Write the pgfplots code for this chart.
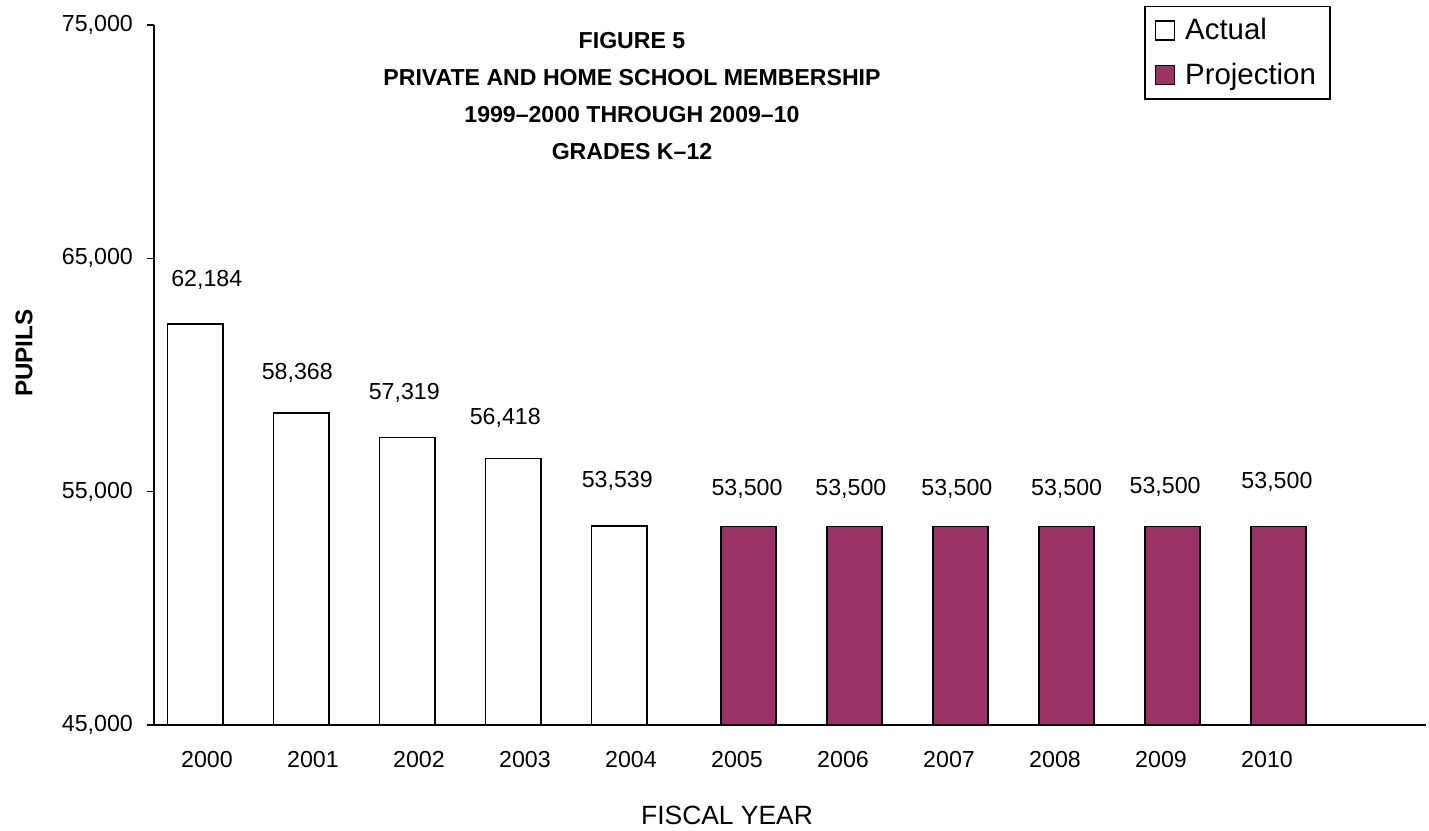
\documentclass[border=0pt]{standalone}
\usepackage{pgfplots}
\pgfplotsset{compat=1.18}
\usepackage{pgfplotstable}
\usepackage{fontspec}
\setmainfont{Liberation Sans}
\definecolor{proj}{RGB}{153,51,102}
\pgfplotstableread{
x y dx dy
0 62184 5.75 18.9
1 58368 -2 17
2 57319 -1.5 19
3 56418 -4 16.8
4 53539 -1 18.9
}\actual
\pgfplotstableread{
x y dx dy
5 53500 -0.8 15.8
6 53500 -1.9 15.8
7 53500 -1.9 15.8
8 53500 0 15.8
9 53500 -3.75 16.8
10 53500 -0.85 18.9
}\proj
\begin{document}
\begin{tikzpicture}
\path[use as bounding box] (-77pt,-52.5pt) rectangle (637.5pt,362.5pt);
\begin{axis}[
  at={(0pt,0pt)}, anchor=south west,
  scale only axis, width=636pt, height=350pt,
  xmin=-0.5, xmax=11.5, ymin=45000, ymax=75000,
  axis x line*=bottom, axis y line*=left,
  axis line style={line width=0.75pt, -},
  ybar,
  scaled y ticks=false,
  ytick={45000,55000,65000,75000},
  xtick={0,1,2,3,4,5,6,7,8,9,10},
  xticklabels={2000,2001,2002,2003,2004,2005,2006,2007,2008,2009,2010},
  tick align=outside, major tick length=3.75pt,
  xtick style={draw=none},
  ytick style={line width=0.75pt, black},
  /pgf/number format/1000 sep={,},
  /pgf/number format/assume math mode=true,
  ticklabel style={font=\fontsize{11.6}{14}\selectfont},
  yticklabel style={anchor=east, inner sep=0pt, xshift=-6.6pt},
  xticklabel style={anchor=north, inner sep=0pt, yshift=-9pt},
  ylabel={PUPILS},
  ylabel style={font=\bfseries\fontsize{12.1}{14}\selectfont, at={(axis description cs:-0.1022,0.531)}, anchor=center},
  xlabel={FISCAL YEAR},
  xlabel style={font=\fontsize{13.2}{15}\selectfont, at={(axis description cs:0.4505,-0.1293)}, anchor=center},
  legend style={at={(rel axis cs:0.7785,1.0276)}, anchor=north west, draw=black, line width=0.75pt,
    font=\fontsize{14.7}{17}\selectfont, inner xsep=5pt, inner ysep=4pt, row sep=6pt, column sep=3pt,
    cells={anchor=west}},
  legend cell align=left,
  legend image code/.code={\draw[#1,line width=0.6pt] (0pt,-4.75pt) rectangle (9.5pt,4.75pt);},
]
\addplot[ybar, bar width=0.52, bar shift=-0.111, fill=white, draw=black, line width=0.8pt,
  nodes near coords,
  visualization depends on={\thisrow{dx} \as \dx},
  visualization depends on={\thisrow{dy} \as \dy},
  nodes near coords style={anchor=base, inner sep=0pt, xshift=\dx*1pt, yshift=\dy*1pt, font=\fontsize{11.6}{14}\selectfont, black}]
  table[x=x,y=y]{\actual};
\addlegendentry{Actual}
\addplot[ybar, bar width=0.52, bar shift=0.11, fill=proj, draw=black, line width=0.8pt,
  nodes near coords,
  visualization depends on={\thisrow{dx} \as \dx},
  visualization depends on={\thisrow{dy} \as \dy},
  nodes near coords style={anchor=base, inner sep=0pt, xshift=\dx*1pt, yshift=\dy*1pt, font=\fontsize{11.6}{14}\selectfont, black}]
  table[x=x,y=y]{\proj};
\addlegendentry{Projection}
\end{axis}
\begin{scope}[every node/.style={font=\bfseries\fontsize{11.55}{14}\selectfont, anchor=base}]
\node at (239pt,338.35pt) {FIGURE 5};
\node at (239pt,319.75pt) {PRIVATE AND HOME SCHOOL MEMBERSHIP};
\node at (239pt,301.15pt) {1999\textendash 2000 THROUGH 2009\textendash 10};
\node at (239pt,282.5pt) {GRADES K\textendash 12};
\end{scope}
\end{tikzpicture}
\end{document}
